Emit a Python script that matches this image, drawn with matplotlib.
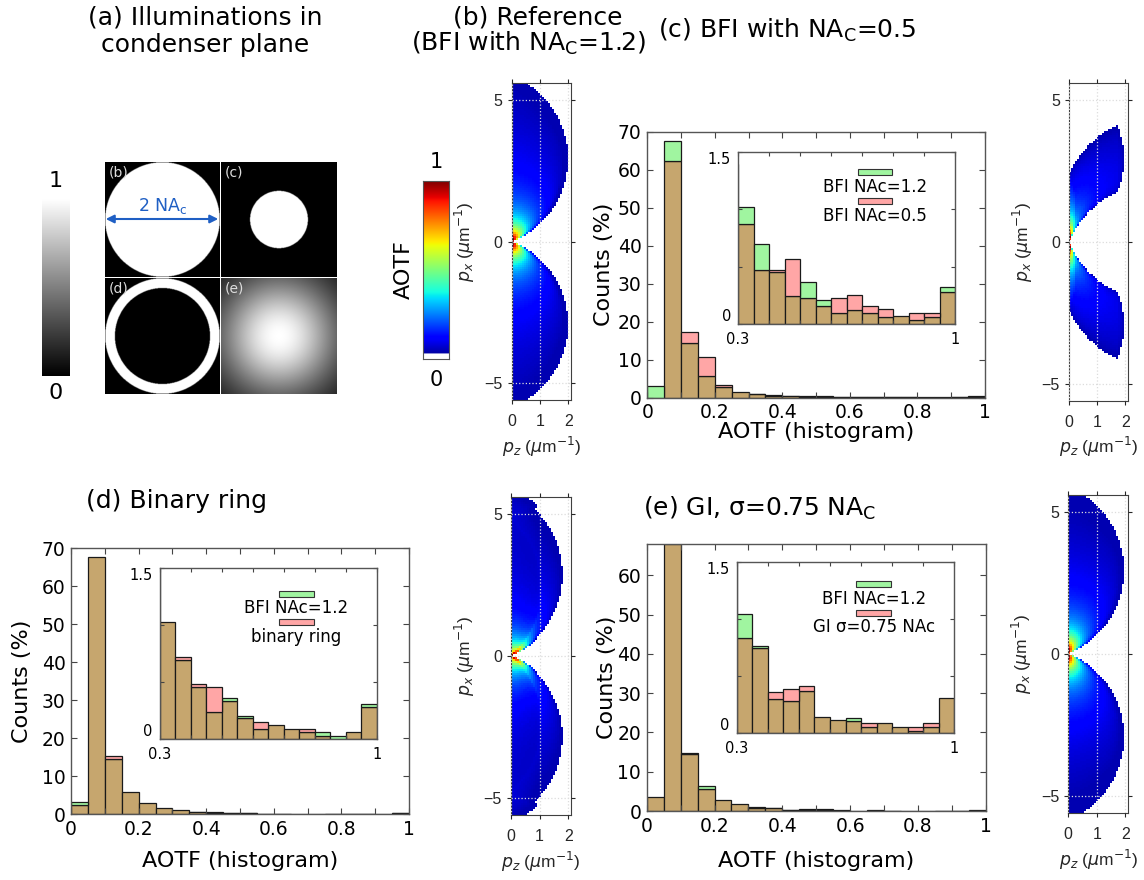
#!/usr/bin/env python3
"""AOTF of brightfield / ring / gaussian illumination - figure rebuild."""
import numpy as np
import matplotlib

matplotlib.use("Agg")
import matplotlib.pyplot as plt
from matplotlib.colors import ListedColormap
from matplotlib.patches import Rectangle, FancyArrowPatch

W, H = 1144, 880

# histogram bins of the AOTF value (0.05 wide)
bin_edges = np.round(np.arange(0, 1.0001, 0.05), 2)

# (c) BFI NAc=1.2 (green) vs BFI NAc=0.5 (red), counts in %
c_ref = [3.0, 67.6, 14.3, 5.6, 2.7, 1.4, 1.02, 0.694, 0.455, 0.242,
         0.362, 0.21, 0.09, 0.123, 0.09, 0.061, 0.064, 0.032, 0.061, 0.318]
c_cmp = [0.0, 62.3, 17.2, 10.6, 3.4, 1.4, 0.87, 0.467, 0.47, 0.563,
         0.222, 0.158, 0.222, 0.251, 0.155, 0.125, 0.064, 0.096, 0.096, 0.28]
# (d) BFI NAc=1.2 vs binary ring
d_ref = [3.16, 67.8, 14.6, 5.8, 3.1, 1.58, 1.029, 0.693, 0.455, 0.24,
         0.36, 0.205, 0.085, 0.12, 0.09, 0.058, 0.058, 0.029, 0.058, 0.31]
d_cmp = [2.46, 67.8, 15.4, 5.8, 3.1, 1.58, 1.029, 0.722, 0.48, 0.453,
         0.333, 0.181, 0.146, 0.12, 0.09, 0.085, 0.029, 0.0, 0.058, 0.28]
# (e) BFI NAc=1.2 vs GI sigma=0.75 NAc
e_ref = [3.65, 67.9, 14.4, 6.28, 2.8, 1.7, 1.045, 0.762, 0.298, 0.277,
         0.368, 0.143, 0.111, 0.128, 0.053, 0.085, 0.053, 0.02, 0.053, 0.306]
e_cmp = [3.65, 67.9, 14.7, 5.6, 2.8, 1.7, 0.829, 0.744, 0.356, 0.382,
         0.411, 0.143, 0.111, 0.108, 0.085, 0.085, 0.053, 0.05, 0.085, 0.306]

legend_c = ["BFI NAc=1.2", "BFI NAc=0.5"]
legend_d = ["BFI NAc=1.2", "binary ring"]
legend_e = ["BFI NAc=1.2", "GI σ=0.75 NAc"]

# optics used for the AOTF maps
WAVELENGTH = 0.42   # um
N_MED = 1.33
NA_OBJ = 1.23
NA_C = 1.2
NA_SMALL = 0.5
RING_IN = 1.0
GI_SIGMA = 0.75
K0 = N_MED / WAVELENGTH

GREEN = "#a0f5a0"
PINK = "#ffa6a6"
TAN = "#c6a66e"
EDGE = "#1a1a1a"

jet = plt.get_cmap("jet")(np.linspace(0, 1, 256))
jet[:8] = [1, 1, 1, 1]
AOTF_CMAP = ListedColormap(jet)


def box(x0, y0, x1, y1):
    return [x0 / W, 1 - y1 / H, (x1 - x0) / W, (y1 - y0) / H]


def src_ref(na):
    return (na <= NA_C).astype(float)


def src_small(na):
    return (na <= NA_SMALL).astype(float)


def src_ring(na):
    return ((na >= RING_IN) & (na <= NA_C)).astype(float)


def src_gi(na):
    s = GI_SIGMA * NA_C
    return np.exp(-na ** 2 / (2 * s ** 2)) * (na <= NA_C)


def aotf_map(source, pix=0.07):
    px = (np.arange(160) + 0.5) * pix - 5.6
    pz = (np.arange(30) + 0.5) * pix
    PX, PZ = np.meshgrid(px, pz, indexing="ij")
    q = np.hypot(PX, PZ)
    r = np.sqrt(np.clip(K0 ** 2 - q ** 2 / 4, 0, None))[..., None]
    phi = np.linspace(0, 2 * np.pi, 360, endpoint=False)
    c, s = np.cos(phi), np.sin(phi)
    ux, uz = (PX / q)[..., None], (PZ / q)[..., None]
    qq = q[..., None]
    total = np.zeros_like(q)
    for sgn in (1, -1):
        kix = sgn * qq / 2 * ux + r * c * uz
        kiy = r * s
        kiz = sgn * qq / 2 * uz - r * c * ux
        kox = kix - sgn * PX[..., None]
        koz = kiz - sgn * PZ[..., None]
        na_in = np.hypot(kix, kiy) * WAVELENGTH
        na_out = np.hypot(kox, kiy) * WAVELENGTH
        ok = (kiz > 0) & (koz > 0) & (na_out <= NA_OBJ)
        total += (source(na_in) * ok).mean(axis=-1)
    val = np.sqrt(total) / np.sqrt(1 + (q / 0.3) ** 2)
    val = val / val.max()
    val = np.clip(val, 0.045, 1.0)
    val[total <= 1e-9] = np.nan
    return val


def draw_aotf(fig, rect, source):
    ax = fig.add_axes(box(*rect))
    img = aotf_map(source)
    ax.imshow(img, origin="lower", cmap=AOTF_CMAP, vmin=0, vmax=1,
              extent=[0, 2.1, -5.6, 5.6], aspect="auto", interpolation="nearest")
    ax.set_xlim(0, 2.1)
    ax.set_ylim(-5.6, 5.6)
    ax.set_xticks([0, 1, 2])
    ax.set_yticks([-5, 0, 5])
    ax.set_axisbelow(False)
    ax.grid(True, ls=":", color="#dcdcdc", lw=0.9)
    ax.tick_params(direction="out", top=True, right=True, length=3,
                   labelsize=11.5, colors="#262626", labelcolor="#262626")
    ax.tick_params(axis="x", pad=7)
    for t in ax.get_xticklabels() + ax.get_yticklabels():
        t.set_family("Liberation Sans")
    for sp in ax.spines.values():
        sp.set_color("#404040")
        sp.set_linewidth(0.8)
    ax.set_xlabel(r"$p_z$ ($\mu$m$^{-1}$)", fontsize=12.5, family="Liberation Sans",
                  color="#262626", labelpad=4)
    ax.set_ylabel(r"$p_x$ ($\mu$m$^{-1}$)", fontsize=12.5, family="Liberation Sans",
                  color="#262626", labelpad=5)
    return ax


def hist_bars(ax, ref, cmp):
    ref, cmp = np.asarray(ref), np.asarray(cmp)
    left = bin_edges[:-1]
    w = np.diff(bin_edges)
    base = np.minimum(ref, cmp)
    ax.bar(left, base, width=w, align="edge", color=TAN, edgecolor=EDGE, lw=0.9)
    g = ref > cmp
    ax.bar(left[g], (ref - base)[g], bottom=base[g], width=w[g], align="edge",
           color=GREEN, edgecolor=EDGE, lw=0.9)
    rr = cmp > ref
    ax.bar(left[rr], (cmp - base)[rr], bottom=base[rr], width=w[rr], align="edge",
           color=PINK, edgecolor=EDGE, lw=0.9)


def style_box(ax, size):
    ax.tick_params(direction="in", top=True, right=True, length=4,
                   labelsize=size, colors="#444444", labelcolor="black", pad=4)
    for sp in ax.spines.values():
        sp.set_color("#555555")
        sp.set_linewidth(1.0)


def draw_hist(fig, rect, inset_rect, ref, cmp, labels, ytop, ymax, lab_x, lab_y, leg_y):
    ax = fig.add_axes(box(*rect))
    hist_bars(ax, ref, cmp)
    ax.set_xlim(0, 1)
    ax.set_ylim(0, ymax)
    xt = np.round(np.arange(0, 1.001, 0.1), 1)
    ax.set_xticks(xt)
    ax.set_xticklabels([f"{v:g}" if i % 2 == 0 else "" for i, v in enumerate(xt)])
    ax.set_yticks(np.arange(0, ytop + 1, 10))
    style_box(ax, 13.5)
    ax.set_ylabel("Counts (%)", fontsize=16)
    ax.set_xlabel("AOTF (histogram)", fontsize=16)
    ax.yaxis.set_label_coords(lab_x, 0.5)
    ax.xaxis.set_label_coords(0.5, lab_y)

    ins = fig.add_axes(box(*inset_rect))
    hist_bars(ins, ref, cmp)
    ins.set_xlim(0.3, 1)
    ins.set_ylim(0, 1.5)
    it = np.round(np.arange(0.3, 1.001, 0.1), 1)
    ins.set_xticks(it)
    ins.set_xticklabels(["0.3"] + [""] * (len(it) - 2) + ["1"])
    ins.set_yticks([0, 0.5, 1, 1.5])
    ins.set_yticklabels(["0", "", "", "1.5"])
    style_box(ins, 10.5)
    ins.tick_params(length=3)
    ins.tick_params(axis="x", pad=6)
    ins.tick_params(axis="y", pad=5)
    ins.get_yticklabels()[0].set_va("bottom")
    ins.get_yticklabels()[-1].set_va("top")
    for i, (col, lab) in enumerate(zip([GREEN, PINK], labels)):
        yc = leg_y - 0.167 * i
        ins.add_patch(Rectangle((0.55, yc - 0.018), 0.16, 0.036, transform=ins.transAxes,
                                facecolor=col, edgecolor="#333333", lw=0.8, zorder=5))
        ins.text(0.63, yc - 0.085, lab, transform=ins.transAxes, ha="center",
                 va="center", fontsize=12, zorder=5)
    return ax, ins


def main():
    fig = plt.figure(figsize=(W / 100, H / 100), dpi=100)

    def title(x, y, s, size=18):
        fig.text(x / W, 1 - y / H, s, ha="center", va="center", fontsize=size)

    title(205, 18, "(a) Illuminations in")
    title(205, 45, "condenser plane")
    title(538, 17, "(b) Reference")
    title(529, 43, r"(BFI with NA$_\mathregular{C}$=1.2)")
    title(787, 30, r"(c) BFI with NA$_\mathregular{C}$=0.5")
    title(177, 501, "(d) Binary ring")
    title(760, 508, r"(e) GI, σ=0.75 NA$_\mathregular{C}$")

    # --- (a) illumination tiles
    u = np.linspace(-1, 1, 300)
    X, Y = np.meshgrid(u, u)
    R = np.hypot(X, Y)
    tiles = [
        ((105, 162, 220, 277), (R <= 1.0).astype(float), "(b)"),
        ((221, 162, 337, 277), (R <= 0.5).astype(float), "(c)"),
        ((105, 278, 220, 394), ((R <= 1.0) & (R >= 0.83)).astype(float), "(d)"),
        ((221, 278, 337, 394), np.exp(-R ** 2 / (2 * GI_SIGMA ** 2)), "(e)"),
    ]
    for rect, img, lab in tiles:
        ax = fig.add_axes(box(*rect))
        ax.imshow(img, cmap="gray", vmin=0, vmax=1, extent=[-1, 1, -1, 1],
                  aspect="auto", interpolation="bilinear")
        ax.axis("off")
        ax.text(0.03, 0.97, lab, transform=ax.transAxes, ha="left", va="top",
                fontsize=10, color="#dddddd")
    fig.add_artist(FancyArrowPatch(
        (103 / W, 1 - 219 / H), (221 / W, 1 - 219 / H), transform=fig.transFigure,
        arrowstyle="<|-|>", mutation_scale=12, color="#1f5fc4", lw=1.5))
    fig.text(163 / W, 1 - 206 / H, r"2 NA$_\mathregular{c}$", ha="center", va="center",
             fontsize=12.5, color="#1f5fc4")

    gax = fig.add_axes(box(42, 199, 70, 376))
    gax.imshow(np.linspace(0, 1, 256)[:, None], origin="lower", cmap="gray",
               aspect="auto", extent=[0, 1, 0, 1])
    gax.axis("off")
    fig.text(56 / W, 1 - 181 / H, "1", ha="center", va="center", fontsize=16)
    fig.text(56 / W, 1 - 393 / H, "0", ha="center", va="center", fontsize=16)

    # --- AOTF colorbar
    cax = fig.add_axes(box(423, 181, 449, 359))
    cax.imshow(np.linspace(0, 1, 256)[:, None], origin="lower", cmap=AOTF_CMAP,
               aspect="auto", extent=[0, 1, 0, 1])
    cax.set_xticks([])
    cax.set_yticks([])
    for sp in cax.spines.values():
        sp.set_color("#555555")
        sp.set_linewidth(0.8)
    fig.text(436 / W, 1 - 162 / H, "1", ha="center", va="center", fontsize=15)
    fig.text(436 / W, 1 - 380 / H, "0", ha="center", va="center", fontsize=15)
    fig.text(404 / W, 1 - 270 / H, "AOTF", ha="center", va="center", fontsize=16,
             rotation=90)

    # --- AOTF maps
    draw_aotf(fig, (511.7, 83, 571, 400), src_ref)
    draw_aotf(fig, (1069, 83.3, 1128, 400.7), src_small)
    draw_aotf(fig, (511, 496.7, 571, 815), src_ring)
    draw_aotf(fig, (1068.3, 495, 1128.3, 813), src_gi)

    # --- histograms
    draw_hist(fig, (647.3, 131.7, 985, 397.7), (738, 152.3, 955.3, 323.7),
              c_ref, c_cmp, legend_c, 70, 70, -0.099, -0.092, 0.883)
    draw_hist(fig, (71, 548.3, 409, 814.3), (159.7, 568, 376.7, 739),
              d_ref, d_cmp, legend_d, 70, 70, -0.115, -0.138, 0.85)
    draw_hist(fig, (646.7, 544.3, 985.7, 811), (736.7, 561.7, 954.3, 733),
              e_ref, e_cmp, legend_e, 60, 67.9, -0.088, -0.15, 0.868)

    fig.savefig("out.png", dpi=100)


if __name__ == "__main__":
    main()
